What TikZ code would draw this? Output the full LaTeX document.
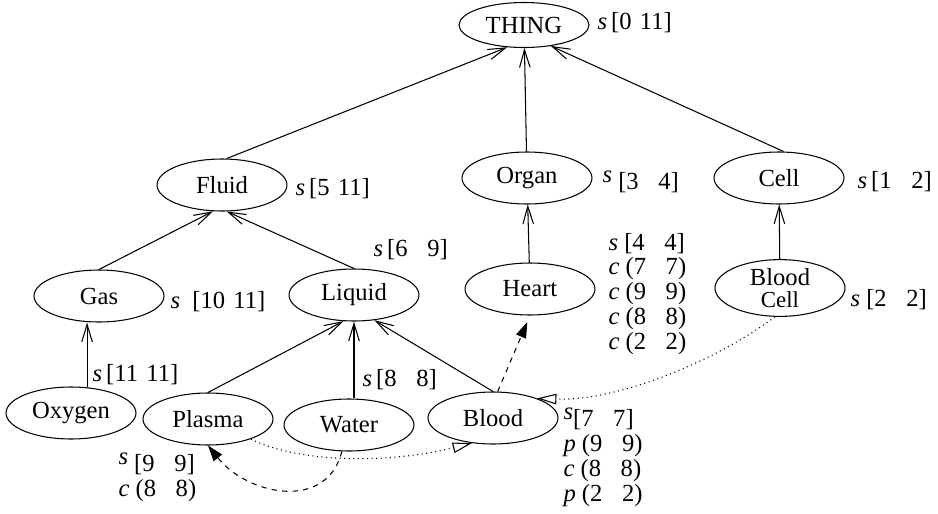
\documentclass[tikz,border=0pt]{standalone}
\usepackage{fontspec}
\setmainfont{Liberation Serif}
\usetikzlibrary{arrows.meta,shapes.geometric}

\newcommand{\rsq}[2]{[#1\hspace{0.3em}\makebox[1em][r]{#2}]}
\newcommand{\rpar}[2]{(#1\hspace{0.3em}\makebox[1em][r]{#2})}
\newcommand{\upit}[1]{\raisebox{4pt}{\textit{#1}}}

\begin{document}
\begin{tikzpicture}[x=0.02cm,y=-0.02cm,line width=0.6pt,
  concept/.style={draw,ellipse,minimum width=2.6cm,minimum height=1.04cm,inner sep=0pt,font=\fontsize{14}{15}\selectfont},
  info/.style={anchor=west,inner sep=0pt,align=left,font=\fontsize{14}{14.2}\selectfont},
  isa/.style={-{Straight Barb[length=10pt,width=6pt]}},
  link/.style={dashed,-{Triangle[length=9pt,width=6pt]}},
  part/.style={dotted,-{Triangle[open,length=11pt,width=6pt]}}]
\useasboundingbox (0,0) rectangle (938,514);

%concepts
\node[concept,minimum height=0.9cm] (THING) at (524,25) {THING};
\node[concept] (Fluid) at (222,185) {Fluid};
\node[concept] (Organ) at (527,178) {Organ};
\node[concept] (Cell) at (779,178) {Cell};
\node[concept] (Gas) at (99,296) {Gas};
\node[concept] (Liquid) at (354,295) {Liquid};
\node[concept] (Heart) at (530,289) {Heart};
\node[concept,align=center] (BloodCell) at (780,288) {Blood\\[-2pt]{\fontsize{13}{13}\selectfont Cell}};
\node[concept] (Oxygen) at (71,413) {Oxygen};
\node[concept] (Plasma) at (208,419) {Plasma};
\node[concept] (Water) at (349,425) {Water};
\node[concept] (Blood) at (493,418) {Blood};

%intervals
\node[info] (iTHING) at (597,23) {\textit{s}\,\rsq{0}{11}};
\node[info] (iFluid) at (295,189) {\textit{s}\,\rsq{5}{11}};
\node[info] (iLiquid) at (373,250) {\textit{s}\,\rsq{6}{9}};
\node[info] (iOrgan) at (602,182) {\upit{s}\ \rsq{3}{4}};
\node[info] (iCell) at (857,182) {\textit{s}\,\rsq{1}{2}};
\node[info] (iGas) at (170,302) {\textit{s}\ \ \rsq{10}{11}};
\node[info] (iBloodCell) at (850,300) {\textit{s}\ \rsq{2}{2}};
\node[info] (iOxygen) at (92,375) {\textit{s}\,\rsq{11}{11}};
\node[info] (iWater) at (362,380) {\textit{s}\,\rsq{8}{8}};
\node[info] (iHeart) at (608,294) {\textit{s}\ \rsq{4}{4}\\ \textit{c}\ \rpar{7}{7}\\ \textit{c}\ \rpar{9}{9}\\ \textit{c}\ \rpar{8}{8}\\ \textit{c}\ \rpar{2}{2}};
\node[info] (iPlasma) at (118,477) {\upit{s}\ \rsq{9}{9}\\ \textit{c}\ \rpar{8}{8}};
\node[info] (iBlood) at (563,457) {\upit{s}\rsq{7}{7}\\ \textit{p}\ \rpar{9}{9}\\ \textit{c}\ \rpar{8}{8}\\ \textit{p}\ \rpar{2}{2}};

%is-a links
\draw[isa] (Fluid.80) -- (THING.-127);
\draw[isa] (Organ) -- (THING);
\draw[isa] (Cell.80) -- (THING.-38);
\draw[isa] (Gas.north) -- (Fluid.-109);
\draw[isa] (Liquid.north) -- (Fluid.-80);
\draw[isa] (Heart) -- (Organ);
\draw[isa] (BloodCell) -- (Cell);
\draw[isa] (Oxygen.58) -- (Oxygen.58 |- Gas.south);
\draw[isa] (Plasma.north) -- (Liquid.-112);
\draw[isa] (Water.north -| Liquid.south) -- (Liquid.south);
\draw[isa] (Blood.north) -- (Liquid.-51);

%other links
\draw[link,shorten >=4pt] (Blood.80) -- (Heart.south);
\draw[link] (Water.-105) .. controls +(-15,60) and +(40,50) .. (Plasma.south);
\draw[part] (Plasma.-25) .. controls +(50,25) and +(-80,20) .. (Blood.-130);
\draw[part] (BloodCell.-100) .. controls +(-60,45) and +(80,3) .. (Blood.24);

\end{tikzpicture}
\end{document}
